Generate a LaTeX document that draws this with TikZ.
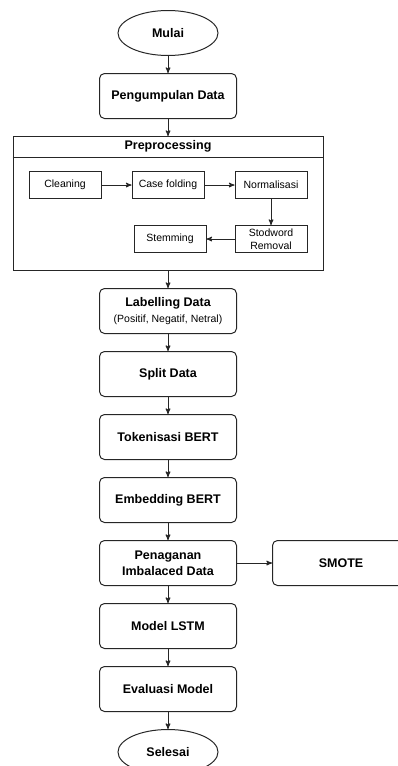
\documentclass[tikz,border=0pt]{standalone}
\usepackage{fontspec}
\setmainfont{Liberation Sans}
\usetikzlibrary{arrows}
\usetikzlibrary{positioning}
\usetikzlibrary{shapes.geometric}

\begin{document}
\begin{tikzpicture}[->,>=stealth',auto,node distance=17pt,x=1pt,y=1pt,
  line width=1pt,draw=black!85,
  main node/.style={rectangle,rounded corners=5pt,draw,minimum width=137pt,minimum height=45pt,
    align=center,font=\fontsize{12.5}{16}\selectfont\bfseries},
  end node/.style={ellipse,draw,minimum width=100pt,minimum height=45pt,
    font=\fontsize{12.5}{16}\selectfont\bfseries},
  sub node/.style={rectangle,draw,minimum width=72pt,minimum height=27pt,inner sep=1pt,
    align=center,font=\fontsize{10.5}{13}\selectfont}]

  \useasboundingbox (0,0) rectangle (398,-766);

  \node[end node] (mulai) at (168,-33) {Mulai};
  \node[main node] (kumpul) [below=of mulai] {Pengumpulan Data};
  \node[rectangle,draw,minimum width=310pt,minimum height=134pt] (prep) [below=of kumpul] {};
  \node[minimum height=20pt,inner sep=0pt,font=\fontsize{12.5}{16}\selectfont\bfseries,
    anchor=north] (preptitle) at (prep.north) {Preprocessing};
  \draw[-] (prep.west |- preptitle.south) -- (prep.east |- preptitle.south);

  % langkah preprocessing
  \node[sub node] (casefold) [below=14pt of preptitle] {Case folding};
  \node[sub node] (cleaning) [left=30pt of casefold] {Cleaning};
  \node[sub node] (normal) [right=30pt of casefold] {Normalisasi};
  \node[sub node] (stopword) [below=26pt of normal] {Stodword\\Removal};
  \node[sub node] (stemming) [left=28pt of stopword] {Stemming};

  \node[main node] (label) [below=of prep] {Labelling Data\\{\fontsize{10.5}{13}\selectfont\mdseries (Positif, Negatif, Netral)}};
  \node[main node] (split) [below=of label] {Split Data};
  \node[main node] (token) [below=of split] {Tokenisasi BERT};
  \node[main node] (embed) [below=of token] {Embedding BERT};
  \node[main node] (imbal) [below=of embed] {Penaganan\\Imbalaced Data};
  \node[main node] (smote) [right=35pt of imbal] {SMOTE};
  \node[main node] (lstm) [below=of imbal] {Model LSTM};
  \node[main node] (eval) [below=of lstm] {Evaluasi Model};
  \node[end node] (selesai) [below=of eval] {Selesai};

  \path
    (mulai) edge (kumpul)
    (kumpul) edge (prep)
    (cleaning) edge (casefold)
    (casefold) edge (normal)
    (normal) edge (stopword)
    (stopword) edge (stemming)
    (prep) edge (label)
    (label) edge (split)
    (split) edge (token)
    (token) edge (embed)
    (embed) edge (imbal)
    (imbal) edge (smote)
    (imbal) edge (lstm)
    (lstm) edge (eval)
    (eval) edge (selesai)
  ;
\end{tikzpicture}
\end{document}
